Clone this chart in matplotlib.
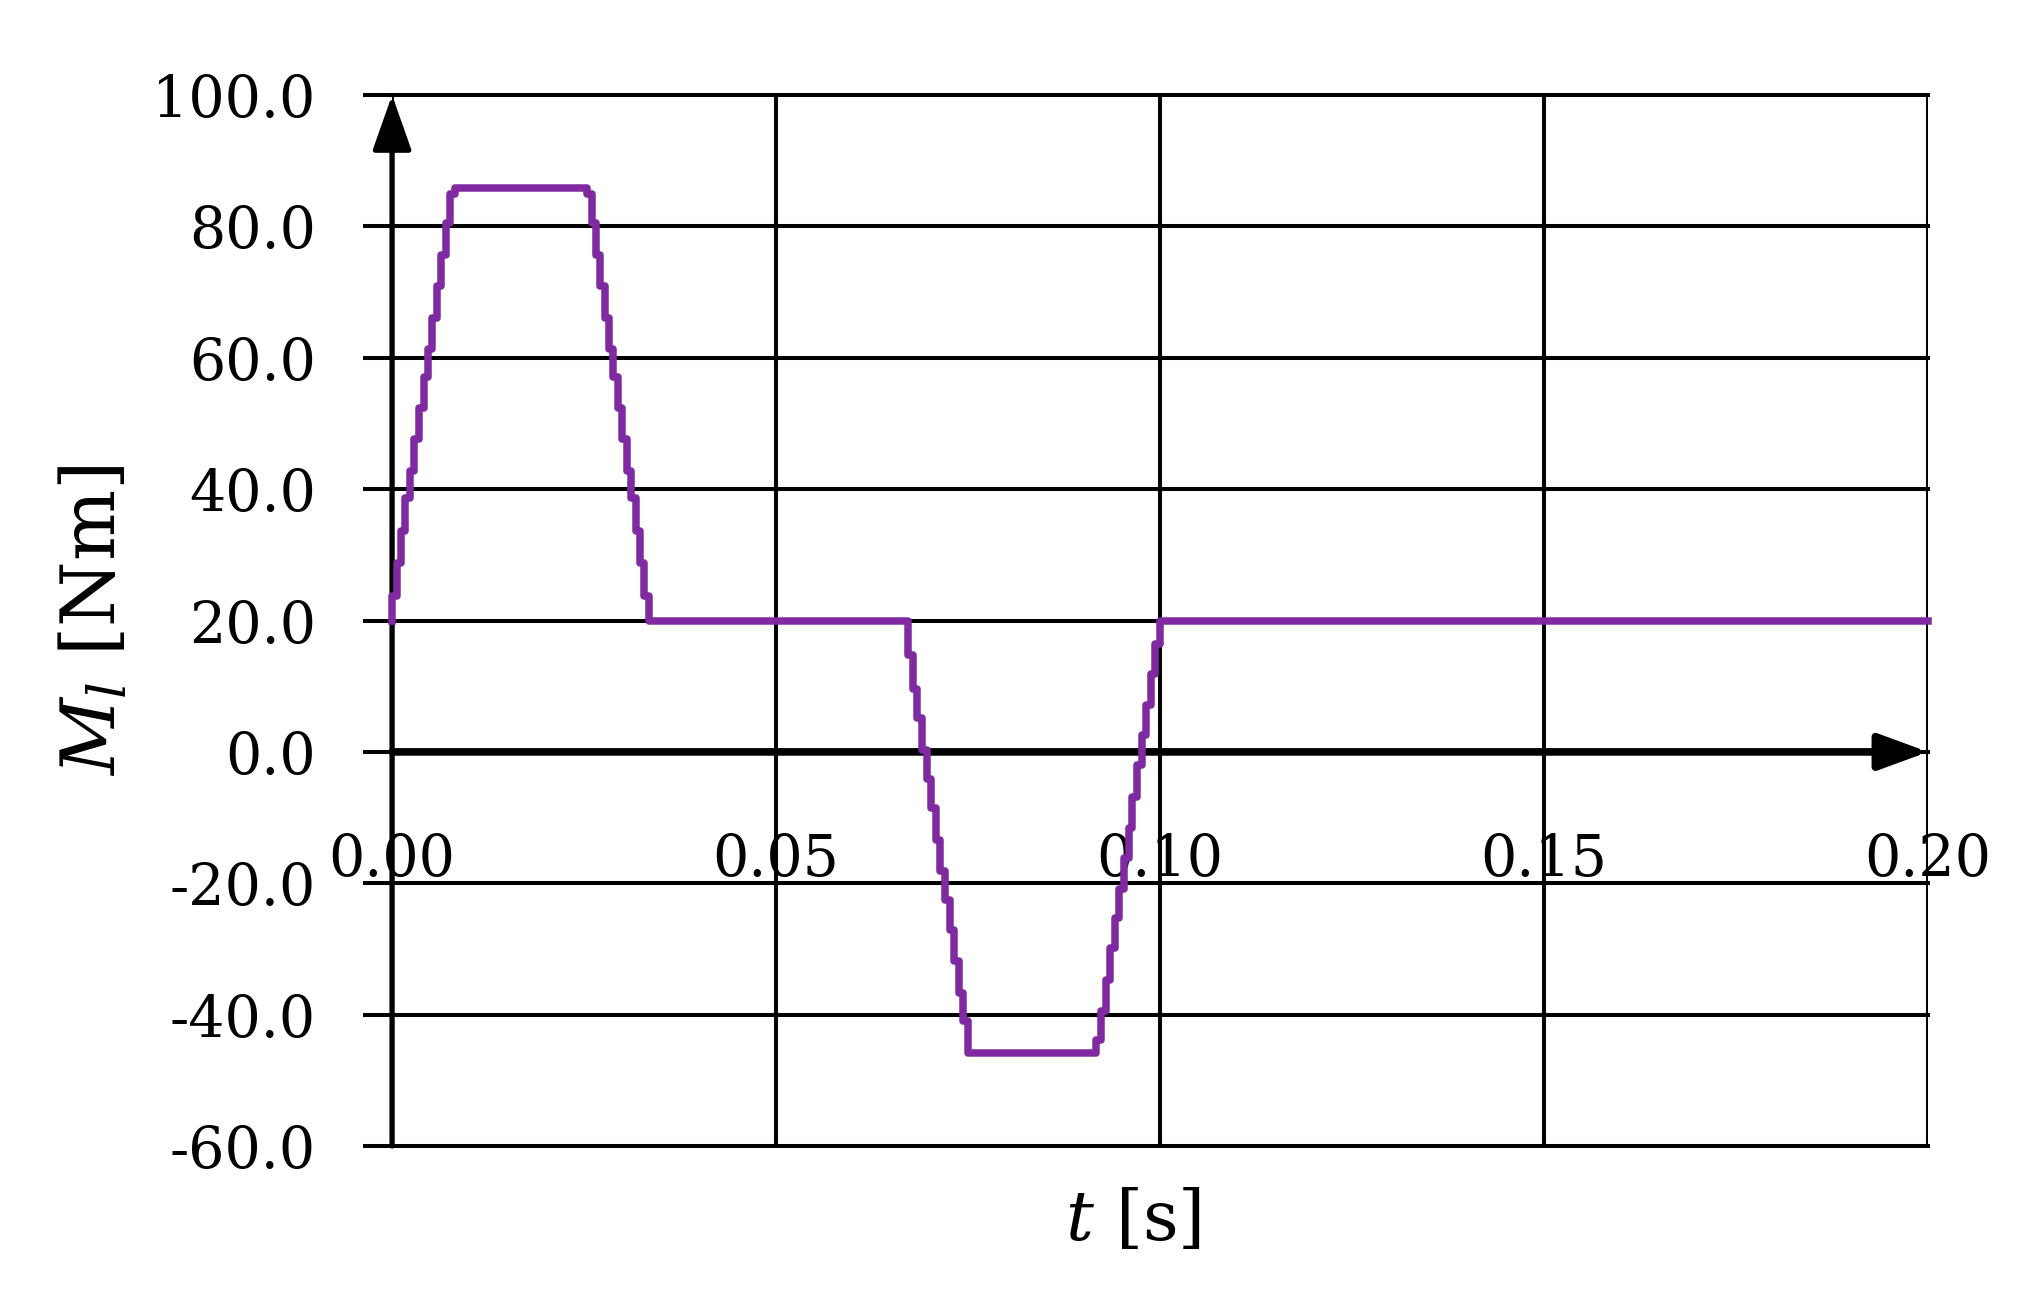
import numpy as np
import matplotlib.pyplot as plt

plt.rcParams['font.family'] = ['DejaVu Serif']
plt.rcParams['mathtext.fontset'] = 'dejavuserif'
plt.rcParams['axes.unicode_minus'] = False

# 阶梯状负载力矩 (采样点, steps-post)
t_rise1 = [0.0, 0.0, 0.0006, 0.0012, 0.0017, 0.0023, 0.0029, 0.0035, 0.0041,
           0.0047, 0.0052, 0.0058, 0.0064, 0.0070, 0.0076, 0.0082]
m_rise1 = [20.0, 23.8, 28.8, 33.7, 38.6, 42.7, 47.7, 52.3, 57.0,
           61.4, 66.0, 71.0, 75.6, 80.5, 84.9, 85.8]
t_fall1 = [0.0254, 0.0260, 0.0265, 0.0271, 0.0277, 0.0283, 0.0288, 0.0294,
           0.0300, 0.0306, 0.0311, 0.0317, 0.0323, 0.0328, 0.0334]
m_fall1 = [84.9, 80.5, 75.6, 71.0, 66.0, 61.4, 57.0, 52.3,
           47.7, 42.7, 38.6, 33.7, 28.8, 23.8, 20.0]
t_fall2 = [0.0672, 0.0678, 0.0684, 0.0690, 0.0696, 0.0702, 0.0708,
           0.0714, 0.0720, 0.0726, 0.0732, 0.0738, 0.0744, 0.0750]
m_fall2 = [14.7, 9.6, 5.1, 0.3, -4.1, -8.6, -13.4,
           -18.2, -22.5, -27.1, -31.9, -36.7, -41.0, -45.8]
t_rise2 = [0.0917, 0.0923, 0.0929, 0.0935, 0.0941, 0.0947, 0.0953, 0.0959,
           0.0964, 0.0970, 0.0976, 0.0982, 0.0988, 0.0994, 0.1000]
m_rise2 = [-43.8, -39.5, -34.7, -29.9, -25.3, -20.8, -16.2, -11.6,
           -6.8, -2.0, 2.5, 7.1, 11.9, 16.5, 20.0]
t_end = [0.2]
m_end = [20.0]

t = np.array(t_rise1 + t_fall1 + t_fall2 + t_rise2 + t_end)
m = np.array(m_rise1 + m_fall1 + m_fall2 + m_rise2 + m_end)

x_ticks = [0.0, 0.05, 0.10, 0.15, 0.20]
y_ticks = [-60, -40, -20, 0, 20, 40, 60, 80, 100]

fig = plt.figure(figsize=(20.41, 13.09), dpi=100)
ax = fig.add_axes([0.1921, 0.1245, 0.7526, 0.8029])
ax.set_xlim(0, 0.2)
ax.set_ylim(-60, 100)

ax.set_xticks(x_ticks)
ax.set_xticklabels(['%.2f' % v for v in x_ticks])
ax.set_yticks(y_ticks)
ax.set_yticklabels(['%.1f' % v for v in y_ticks])
ax.grid(True, color='black', linewidth=2.9)
for gl in ax.get_xgridlines() + ax.get_ygridlines():
    gl.set_clip_on(False)

for s in ax.spines.values():
    s.set_visible(False)
ax.spines['bottom'].set_position(('data', 0))
ax.tick_params(axis='x', length=0, pad=58, labelsize=41)
ax.tick_params(axis='y', length=21, width=2.9, pad=34, labelsize=41)

# 坐标轴 (带箭头)
arrow = dict(arrowstyle='-|>,head_length=34,head_width=12', mutation_scale=1,
             color='black', linewidth=3.8, shrinkA=0, shrinkB=0)
ax.annotate('', xy=(0, 100), xytext=(0, -60), arrowprops=arrow,
            annotation_clip=False)
arrow_x = dict(arrow, linewidth=5.5)
arrow_x['arrowstyle'] = '-|>,head_length=30,head_width=11'
ax.annotate('', xy=(0.2, 0), xytext=(0, 0), arrowprops=arrow_x,
            annotation_clip=False)

ax.plot(t, m, drawstyle='steps-post', color='#7F2AA0', linewidth=5.4,
        clip_on=False, zorder=5)

ax.set_xlabel('$t$ [s]', fontsize=50)
ax.set_ylabel('$M_l$ [Nm]', fontsize=54)
ax.xaxis.set_label_coords(0.4824, -0.04)
ax.yaxis.set_label_coords(-0.17, 0.5)

plt.savefig('out.png', dpi=100)
